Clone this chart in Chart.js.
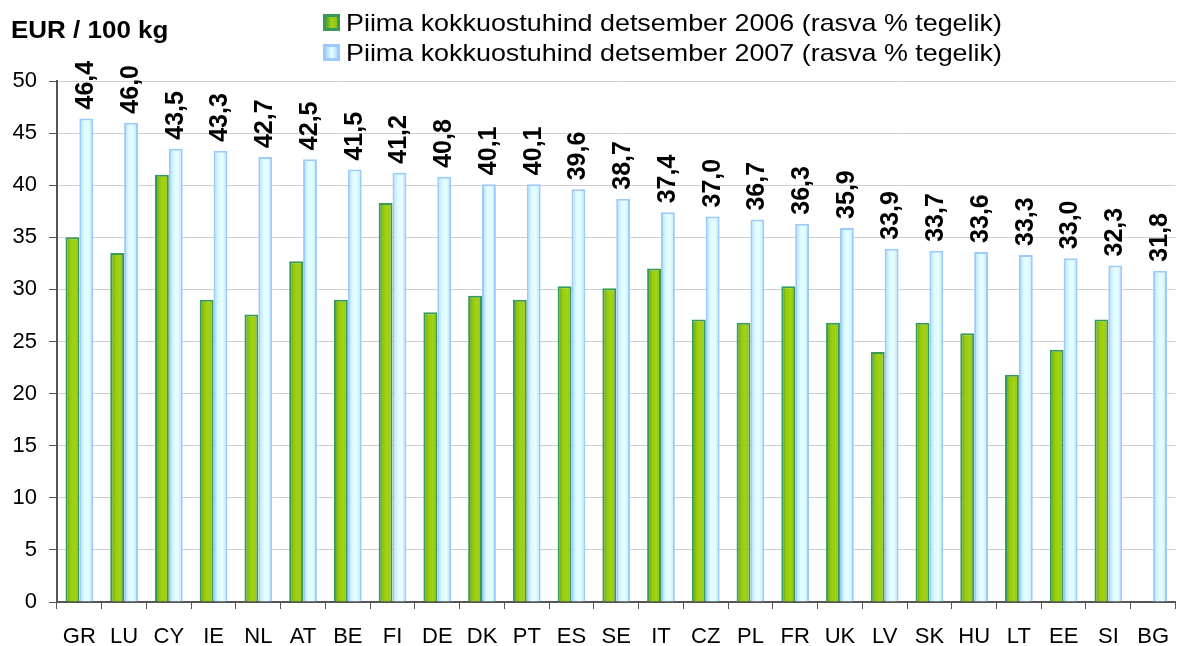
<!DOCTYPE html>
<html>
<head>
<meta charset="utf-8">
<script src="https://cdn.jsdelivr.net/npm/chart.js@4"></script>
<style>
  html, body { margin: 0; padding: 0; background: #fff; overflow: hidden; }
  #wrap { width: 1184px; height: 646px; }
</style>
</head>
<body>
<div id="wrap"><canvas id="milk_prices" width="1184" height="646"></canvas></div>
<script>
const countries = ['GR', 'LU', 'CY', 'IE', 'NL', 'AT', 'BE', 'FI', 'DE', 'DK', 'PT', 'ES', 'SE',
  'IT', 'CZ', 'PL', 'FR', 'UK', 'LV', 'SK', 'HU', 'LT', 'EE', 'SI', 'BG'];
const price_2006 = [35.0, 33.5, 41.0, 29.0, 27.6, 32.7, 29.0, 38.3, 27.8, 29.4, 29.0, 30.3, 30.1,
  32.0, 27.1, 26.8, 30.3, 26.8, 24.0, 26.8, 25.8, 21.8, 24.2, 27.1, null];
const price_2007 = [46.4, 46.0, 43.5, 43.3, 42.7, 42.5, 41.5, 41.2, 40.8, 40.1, 40.1, 39.6, 38.7,
  37.4, 37.0, 36.7, 36.3, 35.9, 33.9, 33.7, 33.6, 33.3, 33.0, 32.3, 31.8];
const series_names = ['Piima kokkuostuhind detsember 2006 (rasva % tegelik)',
  'Piima kokkuostuhind detsember 2007 (rasva % tegelik)'];
const unit_label = 'EUR / 100 kg';

const FONT = '"Liberation Sans", Arial, sans-serif';
Chart.defaults.font.family = FONT;
Chart.defaults.color = '#000';

const BAR_SHARE = 0.62;
const green = { fill: '#93c812', border: '#379a58', stops: ['#4f9f32', '#97cb0a', '#a4d216', '#8cc31a'] };
const blue = { fill: '#ccf6ff', border: '#9ccbfb', stops: ['#a9d6ff', '#dcfbff', '#e6ffff', '#b4deff'] };

// horizontal shading across each bar, worked out from the x scale
function barShade(c, look) {
  const xs = c.chart.scales.x;
  if (!xs || c.dataIndex == null || !isFinite(xs.width)) return look.fill;
  const center = xs.getPixelForValue(c.dataIndex);
  const w = xs.width / countries.length * BAR_SHARE / 2;
  const left = c.datasetIndex === 0 ? center - w : center;
  const g = c.chart.ctx.createLinearGradient(left, 0, left + w, 0);
  g.addColorStop(0, look.stops[0]);
  g.addColorStop(0.35, look.stops[1]);
  g.addColorStop(0.65, look.stops[2]);
  g.addColorStop(1, look.stops[3]);
  return g;
}

// text in the original is a bit wider than normal Arial
function wideText(ctx, text, x, y, sx) {
  ctx.save();
  ctx.translate(x, y);
  ctx.scale(sx, 1);
  ctx.fillText(text, 0, 0);
  ctx.restore();
}

const extras = {
  id: 'extras',
  afterDatasetsDraw(chart) {
    const ctx = chart.ctx;
    const meta = chart.getDatasetMeta(1);
    ctx.save();
    ctx.font = 'bold 25px ' + FONT;
    ctx.fillStyle = '#000';
    ctx.textAlign = 'left';
    ctx.textBaseline = 'middle';
    meta.data.forEach((bar, i) => {
      ctx.save();
      ctx.translate(bar.x, bar.y - 9);
      ctx.rotate(-Math.PI / 2);
      ctx.fillText(price_2007[i].toFixed(1).replace('.', ','), 0, 0);
      ctx.restore();
    });
    ctx.restore();
  },
  afterDraw(chart) {
    const ctx = chart.ctx;
    ctx.save();
    ctx.fillStyle = '#000';
    ctx.textBaseline = 'alphabetic';
    ctx.font = 'bold 23px ' + FONT;
    wideText(ctx, unit_label, 11, 38, 1.13);

    const looks = [green, blue];
    ctx.font = '24px ' + FONT;
    series_names.forEach((name, i) => {
      const top = 14 + i * 30;
      ctx.fillStyle = looks[i].border;
      ctx.fillRect(323, top, 17, 17);
      const g = ctx.createLinearGradient(326, 0, 337, 0);
      g.addColorStop(0, looks[i].stops[0]);
      g.addColorStop(0.5, looks[i].stops[2]);
      g.addColorStop(1, looks[i].stops[3]);
      ctx.fillStyle = g;
      ctx.fillRect(326, top + 3, 11, 11);
      ctx.fillStyle = '#000';
      wideText(ctx, name, 346, top + 17, 1.12);
    });
    ctx.restore();
  }
};

const milk_data = {
  labels: countries,
  datasets: [{
    label: series_names[0],
    data: price_2006,
    backgroundColor: c => barShade(c, green),
    borderColor: green.border,
    borderWidth: 2,
    categoryPercentage: BAR_SHARE,
    barPercentage: 1
  }, {
    label: series_names[1],
    data: price_2007,
    backgroundColor: c => barShade(c, blue),
    borderColor: blue.border,
    borderWidth: 2,
    categoryPercentage: BAR_SHARE,
    barPercentage: 1
  }]
};

const milk_config = {
  type: 'bar',
  data: milk_data,
  options: {
    responsive: false,
    animation: false,
    layout: { padding: { top: 81, left: 0, right: 0, bottom: 0 } },
    plugins: {
      legend: { display: false },
      tooltip: { enabled: false }
    },
    scales: {
      x: {
        grid: { drawOnChartArea: false, offset: true, tickLength: 7, tickColor: '#555' },
        border: { color: '#555', width: 2 },
        ticks: { font: { size: 22 }, padding: 15, color: '#000' },
        afterFit: s => { s.height = 44; }
      },
      y: {
        min: 0,
        max: 50,
        ticks: { stepSize: 5, font: { size: 22 }, padding: 12, color: '#000' },
        grid: { color: '#cfcfcf', tickColor: '#555', tickLength: 8 },
        border: { color: '#555', width: 2 },
        afterFit: s => { s.width = 57; }
      }
    }
  },
  plugins: [extras]
};

const milk_chart = new Chart(document.getElementById('milk_prices'), milk_config);
</script>
</body>
</html>
